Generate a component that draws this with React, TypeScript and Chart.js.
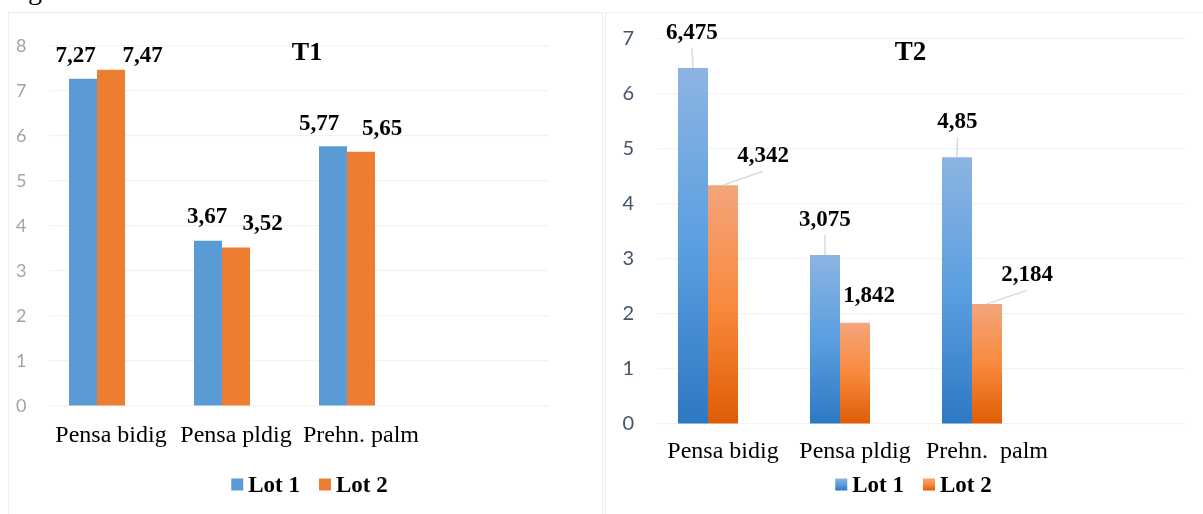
import { useEffect, useRef } from 'react';
import { Chart, registerables } from 'chart.js';

Chart.register(...registerables);

// ---- data ----
const categoriesT1 = ['Pensa bidig', 'Pensa pldig', 'Prehn. palm', ''];
const categoriesT2 = ['Pensa bidig', 'Pensa pldig', 'Prehn.  palm', ''];
const seriesNames = ['Lot 1', 'Lot 2'];
const t1Lot1 = [7.27, 3.67, 5.77, null];
const t1Lot2 = [7.47, 3.52, 5.65, null];
const t2Lot1 = [6.475, 3.075, 4.85, null];
const t2Lot2 = [4.342, 1.842, 2.184, null];
const t1Max = 8;
const t2Max = 7;

// label placement: [dx, dy] from the top centre of each bar to the label's baseline centre
const t1LabelShift = [
  [[-7.5, -17], [-1, -17.5], [-14, -16.5]],
  [[31.5, -8], [26.5, -17.5], [21, -16.5]],
];
const t2LabelShift = [
  [[-1, -29], [0, -29], [0.5, -29]],
  [[40, -23], [14, -21], [40, -22.5]],
];
const t2Leaders = [
  [true, true, true],
  [true, false, true],
];

const SERIF = "'Liberation Serif', 'Times New Roman', serif";

type Stops = [number, string][];

const blueStops: Stops = [[0, '#8db4e2'], [0.5, '#5a9fe0'], [1, '#2e78c2']];
const orangeStops: Stops = [[0, '#f4a57c'], [0.5, '#f98a3c'], [1, '#de5c06']];

function gradientFill(stops: Stops, fallback: string) {
  return (ctx: any) => {
    const chart = ctx.chart;
    if (!chart.chartArea || ctx.type !== 'data' || !ctx.parsed || ctx.parsed.y == null) return fallback;
    const y = chart.scales.y;
    const top = y.getPixelForValue(ctx.parsed.y);
    const base = y.getPixelForValue(0);
    if (!isFinite(top) || !isFinite(base) || top === base) return fallback;
    const g = chart.ctx.createLinearGradient(0, top, 0, base);
    stops.forEach(([o, c]) => g.addColorStop(o, c));
    return g;
  };
}

function formatValue(v: number) {
  return String(v).replace('.', ',');
}

interface PanelSpec {
  labels: string[];
  lot1: (number | null)[];
  lot2: (number | null)[];
  max: number;
  fills: [any, any];
  legendFills: [Stops | string, Stops | string];
  tickColor: string;
  tickSize: number;
  gridColor: string;
  yWidth: number;
  yPad: number;
  xHeight: number;
  xPad: number;
  padTop: number;
  padRight: number;
  catPct: number;
  title: string;
  titleX: number;
  titleSize: number;
  legendX: number;
  shifts: number[][][];
  leaders?: boolean[][];
}

function makeConfig(spec: PanelSpec): any {
  const overlay = {
    id: 'overlay',
    afterDatasetsDraw(chart: any) {
      const c = chart.ctx;
      c.save();
      // value labels with optional leader lines
      for (let d = 0; d < 2; d++) {
        const meta = chart.getDatasetMeta(d);
        const values = d === 0 ? spec.lot1 : spec.lot2;
        meta.data.forEach((el: any, i: number) => {
          const v = values[i];
          if (v == null) return;
          const [dx, dy] = spec.shifts[d][i];
          const lx = el.x + dx;
          const ly = el.y + dy;
          if (spec.leaders && spec.leaders[d][i]) {
            c.strokeStyle = '#d5dbe4';
            c.lineWidth = 1.5;
            c.beginPath();
            c.moveTo(el.x, el.y);
            c.lineTo(lx, ly + 9);
            c.stroke();
          }
          c.fillStyle = '#000';
          c.font = `bold 23px ${SERIF}`;
          c.textAlign = 'center';
          c.textBaseline = 'alphabetic';
          c.fillText(formatValue(v), lx, ly);
        });
      }
      // title
      c.fillStyle = '#000';
      c.font = `bold ${spec.titleSize}px ${SERIF}`;
      c.textAlign = 'center';
      c.fillText(spec.title, spec.titleX, 60);
      // legend
      c.font = `bold 23px ${SERIF}`;
      c.textAlign = 'left';
      const box = 12;
      const gapText = 5;
      const gapItem = 19;
      const widths = seriesNames.map((n) => c.measureText(n).width);
      const total = widths.reduce((a, w) => a + box + gapText + w, 0) + gapItem;
      let x = spec.legendX - total / 2;
      const boxTop = 478.5;
      seriesNames.forEach((n, k) => {
        const f = spec.legendFills[k];
        if (typeof f === 'string') {
          c.fillStyle = f;
        } else {
          const g = c.createLinearGradient(0, boxTop, 0, boxTop + box);
          f.forEach(([o, col]) => g.addColorStop(o, col));
          c.fillStyle = g;
        }
        c.fillRect(x, boxTop, box, box);
        x += box + gapText;
        c.fillStyle = '#000';
        c.fillText(n, x, 491.5);
        x += widths[k] + gapItem;
      });
      c.restore();
    },
  };

  return {
    type: 'bar',
    data: {
      labels: spec.labels,
      datasets: [
        { label: seriesNames[0], data: spec.lot1, backgroundColor: spec.fills[0], borderWidth: 0 },
        { label: seriesNames[1], data: spec.lot2, backgroundColor: spec.fills[1], borderWidth: 0 },
        { label: '', data: spec.labels.map(() => null), backgroundColor: 'transparent' },
      ],
    },
    options: {
      responsive: false,
      devicePixelRatio: 1,
      animation: false,
      layout: { padding: { top: spec.padTop, right: spec.padRight, left: 0, bottom: 0 } },
      datasets: { bar: { categoryPercentage: spec.catPct, barPercentage: 1 } },
      plugins: { legend: { display: false }, tooltip: { enabled: false }, title: { display: false } },
      scales: {
        x: {
          grid: { display: false, drawTicks: false },
          border: { display: false },
          ticks: { color: '#000', font: { family: SERIF, size: 24 }, padding: spec.xPad, maxRotation: 0, autoSkip: false },
          afterFit: (s: any) => { s.height = spec.xHeight; },
        },
        y: {
          min: 0,
          max: spec.max,
          grid: { color: spec.gridColor, lineWidth: 1.2, drawTicks: false },
          border: { display: false },
          ticks: { stepSize: 1, color: spec.tickColor, font: { family: 'Lato', size: spec.tickSize }, padding: spec.yPad },
          afterFit: (s: any) => { s.width = spec.yWidth; },
        },
      },
    },
    plugins: [overlay],
  };
}

const specT1: PanelSpec = {
  labels: categoriesT1,
  lot1: t1Lot1,
  lot2: t1Lot2,
  max: t1Max,
  fills: ['#5b9bd5', '#ed7d31'],
  legendFills: ['#5b9bd5', '#ed7d31'],
  tickColor: '#a3a3a3',
  tickSize: 18,
  gridColor: '#f2f2f2',
  yWidth: 48.5,
  yPad: 22,
  xHeight: 108,
  xPad: 15,
  padTop: 46,
  padRight: 54.5,
  catPct: 0.672,
  title: 'T1',
  titleX: 307,
  titleSize: 26,
  legendX: 309.5,
  shifts: t1LabelShift,
};

const specT2: PanelSpec = {
  labels: categoriesT2,
  lot1: t2Lot1,
  lot2: t2Lot2,
  max: t2Max,
  fills: [gradientFill(blueStops, '#5b9bd5'), gradientFill(orangeStops, '#ed7d31')],
  legendFills: [blueStops, orangeStops],
  tickColor: '#44546a',
  tickSize: 20,
  gridColor: '#f3f3f3',
  yWidth: 54,
  yPad: 23,
  xHeight: 90,
  xPad: 13,
  padTop: 39,
  padRight: 18,
  catPct: 0.682,
  title: 'T2',
  titleX: 307.5,
  titleSize: 27,
  legendX: 310.5,
  shifts: t2LabelShift,
  leaders: t2Leaders,
};

function Panel({ spec, left, width }: { spec: PanelSpec; left: number; width: number }) {
  const ref = useRef<HTMLCanvasElement>(null);
  useEffect(() => {
    if (!ref.current) return;
    const chart = new Chart(ref.current, makeConfig(spec));
    return () => chart.destroy();
  }, [spec]);
  return (
    <canvas
      ref={ref}
      width={width}
      height={514}
      style={{ position: 'absolute', left, top: 0, width, height: 514 }}
    />
  );
}

export default function App() {
  return (
    <div
      style={{
        position: 'fixed',
        left: 0,
        top: 0,
        width: 1203,
        height: 514,
        overflow: 'hidden',
        background: '#fff',
      }}
    >
      <div
        style={{
          position: 'absolute',
          left: 28,
          top: -24,
          fontFamily: SERIF,
          fontSize: 28,
          lineHeight: '28px',
          color: '#000',
        }}
      >
        g
      </div>
      <div
        style={{
          position: 'absolute',
          left: 8,
          top: 12,
          width: 593,
          height: 520,
          border: '1px solid #ececec',
        }}
      />
      <div
        style={{
          position: 'absolute',
          left: 605,
          top: 12,
          width: 620,
          height: 520,
          border: '1px solid #f0f0f0',
        }}
      />
      <Panel spec={specT1} left={0} width={603} />
      <Panel spec={specT2} left={603} width={600} />
    </div>
  );
}
